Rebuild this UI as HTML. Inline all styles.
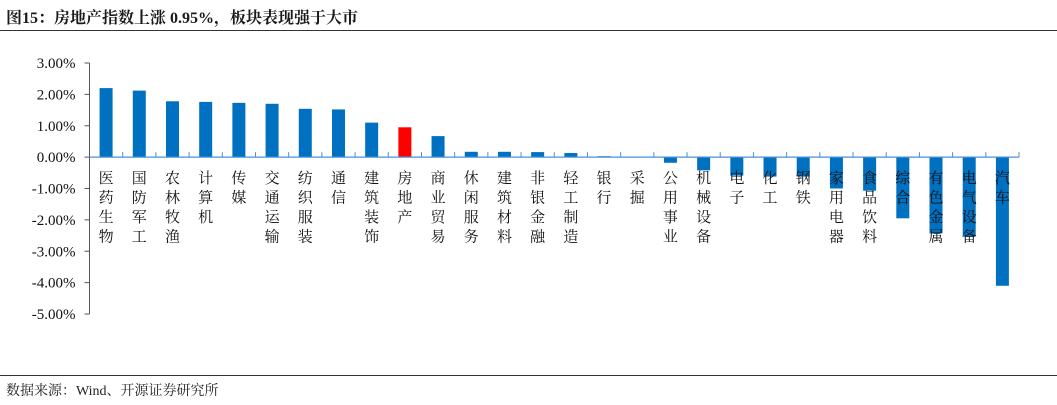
<!DOCTYPE html>
<html><head><meta charset="utf-8"><style>
body{margin:0;background:#fff;width:1057px;height:405px;overflow:hidden;position:relative;font-family:"Liberation Serif","Noto Serif CJK SC",serif}
#title{position:absolute;left:6px;top:5px;font-size:16px;font-weight:bold;color:#1a1a1a;font-family:"Liberation Serif","Noto Serif CJK SC",serif}
.hr{position:absolute;left:0;width:1057px;height:1px;background:#333}
#src{position:absolute;left:6px;top:380px;font-size:14px;color:#222}
</style></head><body>
<div id="title">图15：房地产指数上涨 0.95%，板块表现强于大市</div>
<div class="hr" style="top:30px"></div>
<svg id="chart" width="1057" height="405" style="position:absolute;left:0;top:0"></svg>
<div class="hr" style="top:375px"></div>
<div id="src">数据来源：Wind、开源证券研究所</div>
<script>
const categories=["医药生物","国防军工","农林牧渔","计算机","传媒","交通运输","纺织服装","通信","建筑装饰","房地产","商业贸易","休闲服务","建筑材料","非银金融","轻工制造","银行","采掘","公用事业","机械设备","电子","化工","钢铁","家用电器","食品饮料","综合","有色金属","电气设备","汽车"];
const values=[2.20,2.12,1.78,1.76,1.73,1.70,1.54,1.52,1.10,0.95,0.67,0.17,0.17,0.16,0.13,0.03,0.00,-0.18,-0.42,-0.59,-0.62,-0.62,-1.00,-1.07,-1.95,-2.43,-2.53,-4.10];
const ticks=[3,2,1,0,-1,-2,-3,-4,-5];
const highlight="房地产";
const svg=document.getElementById('chart');
const NS="http://www.w3.org/2000/svg";
const x0=89.5,x1=1019,yTop=63,yBot=314,vMax=3,vMin=-5;
const y=v=>yTop+(vMax-v)/(vMax-vMin)*(yBot-yTop);
const bw=(x1-x0)/categories.length;
const xc=i=>x0+bw*(i+0.5);
function mk(t,a){const e=document.createElementNS(NS,t);for(const k in a)e.setAttribute(k,a[k]);svg.appendChild(e);return e;}
let ax=mk('line',{x1:x0,y1:yTop,x2:x0,y2:yBot,stroke:'#555','stroke-width':1});


ticks.forEach(t=>{
  const ty=y(t);
  const tl=mk('line',{x1:x0-5,y1:ty,x2:x0,y2:ty,stroke:'#555'});
  
  
  const tx=mk('text',{x:x0-14,y:ty+5,'text-anchor':'end','font-size':15,fill:'#111'});
  tx.textContent=t.toFixed(2)+'%';
  
  
});
values.forEach((v,i)=>{
  const top=Math.min(y(v),y(0)),h=Math.abs(y(v)-y(0));
  const r=mk('rect',{x:xc(i)-6.5,y:top,width:13,height:Math.max(h,0.01),fill:categories[i]===highlight?'#ff0000':'#0070c0'});
  
  
});
const za=mk('line',{x1:x0,y1:y(0),x2:x1,y2:y(0),stroke:'#4a90d9','stroke-width':1.2});


for(let i=1;i<=categories.length;i++){
  const t=mk('line',{x1:x0+bw*i,y1:y(0)-5,x2:x0+bw*i,y2:y(0),stroke:'#4a90d9'});
  
  
}
categories.forEach((c,i)=>{
  const tx=mk('text',{x:xc(i),'text-anchor':'middle','font-size':15,fill:'#111','font-family':'"Noto Serif CJK SC",serif'});
  [...c].forEach((ch,k)=>{const s=document.createElementNS(NS,'tspan');s.setAttribute('x',xc(i));s.setAttribute('y',183+k*19.5);s.textContent=ch;tx.appendChild(s);});
  
  
});
</script>
</body></html>
